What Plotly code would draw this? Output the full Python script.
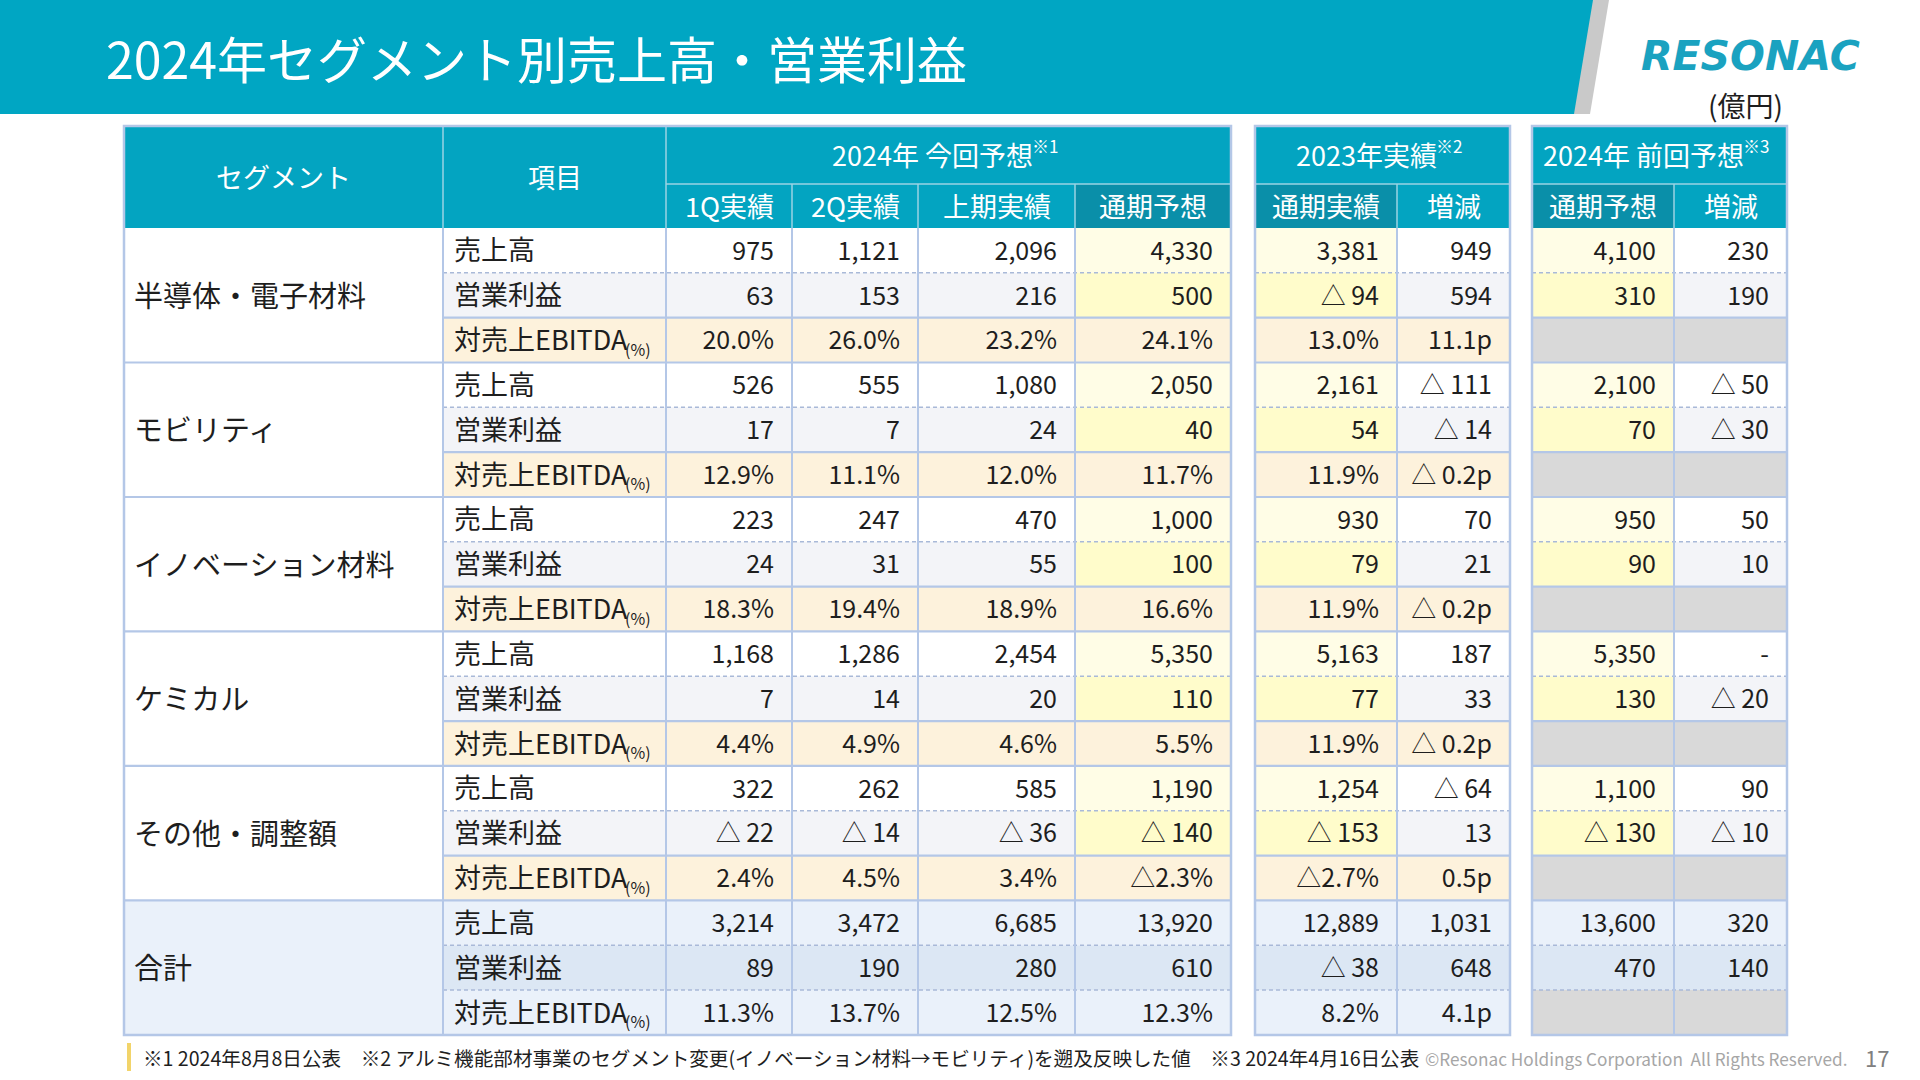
import plotly.graph_objects as go

# ---------------- data ----------------
segments = ["半導体・電子材料", "モビリティ", "イノベーション材料", "ケミカル", "その他・調整額", "合計"]
items = ["売上高", "営業利益", "対売上EBITDA"]
item_sub = ["", "", "(%)"]
group_heads = ["2024年 今回予想", "2023年実績", "2024年 前回予想"]
group_notes = ["※1", "※2", "※3"]
sub_heads = ["1Q実績", "2Q実績", "上期実績", "通期予想", "通期実績", "増減", "通期予想", "増減"]

sales_1q = [975, 526, 223, 1168, 322, 3214]
sales_2q = [1121, 555, 247, 1286, 262, 3472]
sales_h1 = [2096, 1080, 470, 2454, 585, 6685]
sales_fy = [4330, 2050, 1000, 5350, 1190, 13920]
sales_2023 = [3381, 2161, 930, 5163, 1254, 12889]
sales_vs2023 = [949, -111, 70, 187, -64, 1031]
sales_prev = [4100, 2100, 950, 5350, 1100, 13600]
sales_vsprev = [230, -50, 50, 0, 90, 320]

op_1q = [63, 17, 24, 7, -22, 89]
op_2q = [153, 7, 31, 14, -14, 190]
op_h1 = [216, 24, 55, 20, -36, 280]
op_fy = [500, 40, 100, 110, -140, 610]
op_2023 = [-94, 54, 79, 77, -153, -38]
op_vs2023 = [594, -14, 21, 33, 13, 648]
op_prev = [310, 70, 90, 130, -130, 470]
op_vsprev = [190, -30, 10, -20, -10, 140]

ebitda_1q = [20.0, 12.9, 18.3, 4.4, 2.4, 11.3]
ebitda_2q = [26.0, 11.1, 19.4, 4.9, 4.5, 13.7]
ebitda_h1 = [23.2, 12.0, 18.9, 4.6, 3.4, 12.5]
ebitda_fy = [24.1, 11.7, 16.6, 5.5, -2.3, 12.3]
ebitda_2023 = [13.0, 11.9, 11.9, 11.9, -2.7, 8.2]
ebitda_vs2023 = [11.1, -0.2, -0.2, -0.2, 0.5, 4.1]

title_text = "2024年セグメント別売上高・営業利益"
unit_text = "(億円)"
footnote_text = "※1 2024年8月8日公表　※2 アルミ機能部材事業のセグメント変更(イノベーション材料→モビリティ)を遡及反映した値　※3 2024年4月16日公表"
copyright_text = "©Resonac Holdings Corporation  All Rights Reserved."
page_no = "17"

# ---------------- layout geometry / styles ----------------
W, H = 1920, 1080
FONT = "Noto Sans CJK JP"
col_x = [(124, 443), (443, 666), (666, 792), (792, 918), (918, 1075), (1075, 1231),
         (1255, 1397), (1397, 1510), (1532, 1674), (1674, 1787)]
groups = [(2, 5), (6, 7), (8, 9)]  # value column index ranges (inclusive) per table group
group_head_w = [201, 141, 200]     # approximate rendered widths of group head texts
HEAD_TOP, HEAD_MID, DATA_TOP, ROW_H = 126, 184, 228, 44.83
NROWS = 18
DATA_BOT = DATA_TOP + NROWS * ROW_H
TY_VAL = 3    # vertical nudge for scatter texts
TY_ANN = -1   # vertical nudge for annotation texts

TEAL = "#03A4C1"
TEAL_DARK = "#0A8FA9"
WHITE = "#FFFFFF"
ROW_GREY = "#F3F4F8"
PEACH = "#FDF2DC"
LT_YELLOW = "#FFFDE6"
YELLOW = "#FFFCCB"
TOT_LT = "#EAF1FA"
TOT_DK = "#DCE7F4"
GREY = "#D9D9D9"
LINE = "#B4C7E7"
DASH_LINE = "#A9B9D8"
HEAD_LINE = "#9BD3E3"
TXT = "#1E1E1E"


def fmt_amount(v):
    if v == 0:
        return "-"
    return ("△ " + f"{abs(v):,}") if v < 0 else f"{v:,}"


def fmt_pct(v):
    return ("△" + f"{abs(v):.1f}%") if v < 0 else f"{v:.1f}%"


def fmt_pt(v):
    return ("△ " + f"{abs(v):.1f}p") if v < 0 else f"{v:.1f}p"


sales_cols = [sales_1q, sales_2q, sales_h1, sales_fy, sales_2023, sales_vs2023, sales_prev, sales_vsprev]
op_cols = [op_1q, op_2q, op_h1, op_fy, op_2023, op_vs2023, op_prev, op_vsprev]
ebitda_cols = [ebitda_1q, ebitda_2q, ebitda_h1, ebitda_fy, ebitda_2023, ebitda_vs2023, None, None]

shapes = []
annotations = []


def rect(x0, x1, y0, y1, fill):
    shapes.append(dict(type="rect", xref="x", yref="y", x0=x0, x1=x1, y0=y0, y1=y1,
                       fillcolor=fill, line=dict(width=0), layer="below"))


def line(x0, y0, x1, y1, color, width=2, dash="solid"):
    shapes.append(dict(type="line", xref="x", yref="y", x0=x0, y0=y0, x1=x1, y1=y1,
                       line=dict(color=color, width=width, dash=dash), layer="below"))


def label(x, y, text, size, color=TXT, xanchor="left", family=FONT, **fk):
    annotations.append(dict(x=x, y=y, xref="x", yref="y", text=text, showarrow=False,
                            xanchor=xanchor, yanchor="middle",
                            font=dict(family=family, size=size, color=color, **fk)))


def row_top(r):
    return DATA_TOP + r * ROW_H


def row_mid(r):
    return DATA_TOP + (r + 0.5) * ROW_H


# title bar
shapes.append(dict(type="path", xref="x", yref="y", path="M 1592 0 L 1609 0 L 1590 114 L 1573 114 Z",
                   fillcolor="#C9C9C9", line=dict(width=0), layer="below"))
shapes.append(dict(type="path", xref="x", yref="y", path="M 0 0 L 1593 0 L 1574 114 L 0 114 Z",
                   fillcolor="#00A6C3", line=dict(width=0), layer="below"))

# header fills
rect(col_x[0][0], col_x[5][1], HEAD_TOP, DATA_TOP, TEAL)
rect(col_x[6][0], col_x[7][1], HEAD_TOP, DATA_TOP, TEAL)
rect(col_x[8][0], col_x[9][1], HEAD_TOP, DATA_TOP, TEAL)
for ci in (5, 6, 8):
    rect(col_x[ci][0], col_x[ci][1], HEAD_MID, DATA_TOP, TEAL_DARK)

# body fills
for s in range(6):
    for k in range(3):
        r = s * 3 + k
        y0, y1 = row_top(r), row_top(r + 1)
        if s == 5:
            base = TOT_DK if k == 1 else TOT_LT
        else:
            base = [WHITE, ROW_GREY, PEACH][k]
        rect(col_x[1][0], col_x[1][1], y0, y1, base)
        for j in range(8):
            ci = j + 2
            fill = base
            if s != 5:
                if k == 0 and j in (3, 4, 6):
                    fill = LT_YELLOW
                if k == 1 and j in (3, 4, 6):
                    fill = YELLOW
            if k == 2 and j in (6, 7):
                fill = GREY
            rect(col_x[ci][0], col_x[ci][1], y0, y1, fill)
    rect(col_x[0][0], col_x[0][1], row_top(s * 3), row_top(s * 3 + 3), TOT_LT if s == 5 else WHITE)

# header lines
line(col_x[1][0], HEAD_TOP, col_x[1][0], DATA_TOP, HEAD_LINE, 1.5)
line(col_x[2][0], HEAD_TOP, col_x[2][0], DATA_TOP, HEAD_LINE, 1.5)
for g0, g1 in groups:
    line(col_x[g0][0], HEAD_MID, col_x[g1][1], HEAD_MID, HEAD_LINE, 1.5)
    for ci in range(g0, g1):
        line(col_x[ci][1], HEAD_MID, col_x[ci][1], DATA_TOP, HEAD_LINE, 1.5)

# body horizontal lines
for r in range(1, NROWS):
    s, k = divmod(r, 3)
    if k == 0:
        line(col_x[0][0], row_top(r), col_x[5][1], row_top(r), LINE, 2.2)
        for g0, g1 in groups[1:]:
            line(col_x[g0][0], row_top(r), col_x[g1][1], row_top(r), LINE, 2.2)
    else:
        dashed = (k == 1) or (s == 5)
        for g0, g1 in [(1, 5)] + groups[1:]:
            if dashed:
                line(col_x[g0][0], row_top(r), col_x[g1][1], row_top(r), DASH_LINE, 1.5, "4px,3px")
            else:
                line(col_x[g0][0], row_top(r), col_x[g1][1], row_top(r), LINE, 2.2)

# body vertical lines
for ci in range(0, 5):
    line(col_x[ci][1], DATA_TOP, col_x[ci][1], DATA_BOT, LINE, 2)
for g0, g1 in groups[1:]:
    for ci in range(g0, g1):
        line(col_x[ci][1], DATA_TOP, col_x[ci][1], DATA_BOT, LINE, 2)

# outer borders
for x0, x1 in [(col_x[0][0], col_x[5][1]), (col_x[6][0], col_x[7][1]), (col_x[8][0], col_x[9][1])]:
    shapes.append(dict(type="rect", xref="x", yref="y", x0=x0, x1=x1, y0=HEAD_TOP, y1=DATA_BOT,
                       fillcolor="rgba(0,0,0,0)", line=dict(color=LINE, width=2.5), layer="below"))

fig = go.Figure()

# value texts (through the axes)
vx, vy, vt = [], [], []
for s in range(6):
    for k in range(3):
        r = s * 3 + k
        for j in range(8):
            ci = j + 2
            if k == 0:
                t = fmt_amount(sales_cols[j][s])
            elif k == 1:
                t = fmt_amount(op_cols[j][s])
            else:
                if ebitda_cols[j] is None:
                    continue
                t = fmt_pt(ebitda_cols[j][s]) if j == 5 else fmt_pct(ebitda_cols[j][s])
            vx.append(col_x[ci][1] - 18)
            vy.append(row_mid(r) + TY_VAL)
            vt.append(t)
fig.add_trace(go.Scatter(x=vx, y=vy, text=vt, mode="text", textposition="middle left",
                         textfont=dict(family=FONT, size=25, color=TXT), hoverinfo="skip",
                         cliponaxis=False, showlegend=False))

# item texts
for s in range(6):
    for k in range(3):
        y = row_mid(s * 3 + k) + TY_ANN - 0.5
        label(col_x[1][0] + 9, y, items[k], 27)
        if item_sub[k]:
            label(col_x[1][0] + 9 + 171, y + 10, item_sub[k], 16)

# segment texts
for s in range(6):
    label(col_x[0][0] + 8, row_mid(s * 3 + 1) + TY_ANN - 0.5, segments[s], 29)

# header texts
label((col_x[0][0] + col_x[0][1]) / 2, (HEAD_TOP + DATA_TOP) / 2 + TY_ANN, "セグメント", 27, "white", "center")
label((col_x[1][0] + col_x[1][1]) / 2, (HEAD_TOP + DATA_TOP) / 2 + TY_ANN, "項目", 27, "white", "center")
for gi, (g0, g1) in enumerate(groups):
    cx = (col_x[g0][0] + col_x[g1][1]) / 2
    xr = cx + (group_head_w[gi] + 28) / 2 - 28
    yh = (HEAD_TOP + HEAD_MID) / 2 + TY_ANN
    label(xr, yh, group_heads[gi], 27, "white", "right")
    label(xr - 5, yh - 9, group_notes[gi], 17, "white", "left")
for j in range(8):
    ci = j + 2
    label((col_x[ci][0] + col_x[ci][1]) / 2, (HEAD_MID + DATA_TOP) / 2 + TY_ANN, sub_heads[j], 27, "white", "center")

# footnote bar
rect(127, 131, 1043, 1071, "#F2D46A")

label(104, 57, title_text, 50, "white")
label(1750, 56, "RESONAC", 41, "#1AA2C0", "center", family="DejaVu Sans", weight="bold", style="italic")
label(1745, 105, unit_text, 28, TXT, "center")
label(141, 1057, footnote_text, 19.6)
label(1849, 1058, copyright_text, 17.2, "#A6A6A6", "right")
label(1877, 1057, page_no, 22, "#808080", "center")

fig.update_layout(
    width=W, height=H, margin=dict(l=0, r=0, t=0, b=0),
    paper_bgcolor="white", plot_bgcolor="white",
    xaxis=dict(range=[0, W], visible=False, fixedrange=True),
    yaxis=dict(range=[H, 0], visible=False, fixedrange=True),
    shapes=shapes, annotations=annotations, showlegend=False,
)

fig.write_html("out.html", config={"displayModeBar": False},
               post_script="document.body.style.margin='0';document.body.style.overflow='hidden';")
